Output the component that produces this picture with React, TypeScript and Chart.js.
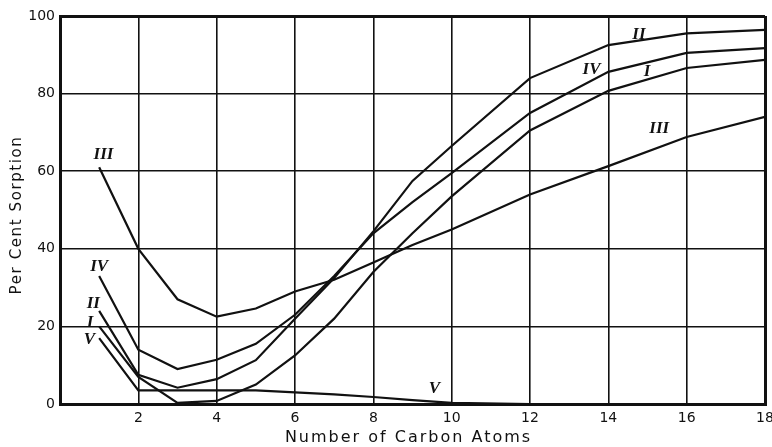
import React, { useEffect, useRef } from "react";
import { Chart, registerables } from "chart.js";

Chart.register(...registerables);

// Number of carbon atoms (x values shared by every curve)
const carbonAtoms = [1, 2, 3, 4, 5, 6, 7, 8, 9, 10, 12, 14, 16, 18];

// Per cent sorption for each curve
const seriesI = [20, 7, 0.3, 0.8, 5, 12.5, 22, 34, 44, 53.5, 70.5, 80.7, 86.6, 88.7];
const seriesII = [24, 7.5, 4.2, 6.4, 11.3, 22, 32.5, 44.5, 57.5, 66.5, 84, 92.5, 95.5, 96.4];
const seriesIII = [61, 40, 27, 22.5, 24.6, 29, 32, 36.5, 41, 45, 54, 61.3, 68.8, 74];
const seriesIV = [33, 14, 9, 11.4, 15.5, 23, 33, 44, 52, 59.5, 75, 85.6, 90.5, 91.7];
const seriesV = [17, 3.5, 3.5, 3.5, 3.5, 3, 2.5, 1.8, 1, 0.3, 0, null, null, null];

const seriesNames = ["I", "II", "III", "IV", "V"];
const seriesValues = [seriesI, seriesII, seriesIII, seriesIV, seriesV];

// Curve labels (text and data-space anchor)
const labelText = ["III", "IV", "II", "I", "V", "V", "II", "IV", "I", "III"];
const labelX = [1.11, 1.0, 0.85, 0.77, 0.75, 9.56, 14.78, 13.57, 14.99, 15.3];
const labelY = [64.2, 35.3, 26, 20.9, 16.5, 4, 95.1, 86.1, 85.6, 71.1];

const xTicks = [0, 2, 4, 6, 8, 10, 12, 14, 16, 18];
const yTicks = [0, 20, 40, 60, 80, 100];

const xTitle = "Number of Carbon Atoms";
const yTitle = "Per Cent Sorption";

const curveLabelsPlugin = {
  id: "curveLabels",
  afterDatasetsDraw(chart: any) {
    const { ctx, scales } = chart;
    ctx.save();
    ctx.font = "italic bold 17px 'Liberation Serif', 'DejaVu Serif', serif";
    ctx.fillStyle = "#111";
    ctx.textAlign = "center";
    ctx.textBaseline = "middle";
    for (let i = 0; i < labelText.length; i++) {
      const px = scales.x.getPixelForValue(labelX[i]);
      const py = scales.y.getPixelForValue(labelY[i]);
      ctx.fillText(labelText[i], px, py);
    }
    ctx.restore();
  },
};

const axisTitlesPlugin = {
  id: "axisTitles",
  afterDraw(chart: any) {
    const { ctx, chartArea } = chart;
    ctx.save();
    ctx.fillStyle = "#111";
    ctx.textAlign = "center";
    ctx.textBaseline = "middle";
    // x title
    ctx.font = "16px 'DejaVu Sans', sans-serif";
    (ctx as any).letterSpacing = "2px";
    ctx.fillText(xTitle, (chartArea.left + chartArea.right) / 2 - 4, 438);
    // y title
    ctx.font = "15px 'DejaVu Sans', sans-serif";
    (ctx as any).letterSpacing = "1.6px";
    ctx.translate(17, (chartArea.top + chartArea.bottom) / 2 + 5);
    ctx.rotate(-Math.PI / 2);
    ctx.fillText(yTitle, 0, 0);
    ctx.restore();
  },
};

export default function App() {
  const canvasRef = useRef<HTMLCanvasElement | null>(null);

  useEffect(() => {
    const canvas = canvasRef.current;
    if (!canvas) return;
    const datasets = seriesValues.map((vals, si) => ({
      label: seriesNames[si],
      data: carbonAtoms
        .map((x, i) => ({ x, y: vals[i] }))
        .filter((p) => p.y !== null && p.y !== undefined),
      borderColor: "#111",
      borderWidth: 2.2,
      pointRadius: 0,
      tension: 0,
      fill: false,
    }));

    const edgeWidth = (max: number) => (c: any) =>
      c.tick && (c.tick.value === max || c.tick.value === 0) ? 3 : 1.6;

    const chart = new Chart(canvas, {
      type: "line",
      data: { datasets },
      plugins: [curveLabelsPlugin, axisTitlesPlugin],
      options: {
        animation: false,
        responsive: false,
        maintainAspectRatio: false,
        layout: { padding: { top: 16, right: 7, bottom: 0, left: 0 } },
        plugins: { legend: { display: false }, tooltip: { enabled: false } },
        scales: {
          x: {
            type: "linear",
            min: 0,
            max: 18,
            afterBuildTicks: (s: any) => {
              s.ticks = xTicks.map((v) => ({ value: v }));
            },
            ticks: {
              color: "#111",
              font: { family: "'DejaVu Sans', sans-serif", size: 14 },
              padding: 6,
              maxRotation: 0,
              autoSkip: false,
              callback: (v: any) => (v === 0 ? "" : String(v)),
            },
            grid: { color: "#111", lineWidth: edgeWidth(18), drawTicks: false },
            border: { display: true, color: "#111", width: 3 },
            title: { display: false },
            afterFit: (s: any) => {
              s.height = 43;
              s.paddingLeft = 0;
              s.paddingRight = 0;
            },
          },
          y: {
            type: "linear",
            min: 0,
            max: 100,
            afterBuildTicks: (s: any) => {
              s.ticks = yTicks.map((v) => ({ value: v }));
            },
            ticks: {
              color: "#111",
              font: { family: "'DejaVu Sans', sans-serif", size: 14 },
              padding: 5,
            },
            grid: { color: "#111", lineWidth: edgeWidth(100), drawTicks: false },
            border: { display: true, color: "#111", width: 3 },
            title: { display: false },
            afterFit: (s: any) => {
              s.width = 60;
              s.paddingTop = 0;
              s.paddingBottom = 0;
            },
          },
        },
      } as any,
    });
    return () => chart.destroy();
  }, []);

  return (
    <div style={{ position: "absolute", left: 0, top: 0, width: 772, height: 447, background: "#fff" }}>
      <canvas ref={canvasRef} width={772} height={447} style={{ width: 772, height: 447 }} />
    </div>
  );
}
